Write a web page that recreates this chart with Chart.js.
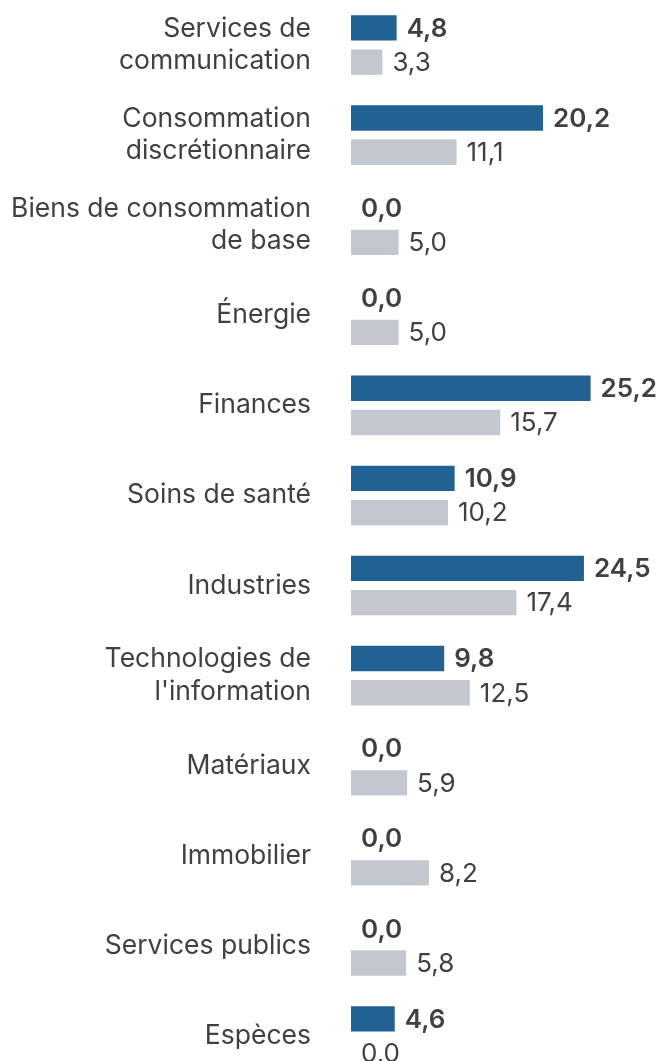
<!DOCTYPE html>
<html lang="fr">
<head>
    <meta charset="UTF-8">
    <title>Répartition sectorielle</title>
    <script src="https://cdn.jsdelivr.net/npm/chart.js"></script>
    <style>
        html, body {
            margin: 0;
            padding: 0;
            background: white;
            overflow: hidden;
        }
        .chart-container {
            position: relative;
            width: 660px;
            height: 1081px;
        }
    </style>
</head>
<body>
    <div class="chart-container">
        <canvas id="sectorChart"></canvas>
    </div>

    <script>
        // secteurs (libellés sur plusieurs lignes)
        const categories = [
            ['Services de', 'communication'],
            ['Consommation', 'discrétionnaire'],
            ['Biens de consommation', 'de base'],
            'Énergie',
            'Finances',
            'Soins de santé',
            'Industries',
            ['Technologies de', "l'information"],
            'Matériaux',
            'Immobilier',
            'Services publics',
            'Espèces'
        ];
        const fundValues = [4.8, 20.2, 0.0, 0.0, 25.2, 10.9, 24.5, 9.8, 0.0, 0.0, 0.0, 4.6];
        const benchmarkValues = [3.3, 11.1, 5.0, 5.0, 15.7, 10.2, 17.4, 12.5, 5.9, 8.2, 5.8, 0.0];

        const textColor = '#404040';
        const fontFamily = 'Inter, "Noto Sans", sans-serif';

        // étiquettes de valeur à droite des barres
        const valueLabels = {
            id: 'valueLabels',
            afterDatasetsDraw(chart) {
                const ctx = chart.ctx;
                ctx.save();
                ctx.fillStyle = textColor;
                ctx.textBaseline = 'middle';
                ctx.textAlign = 'left';
                chart.data.datasets.forEach((ds, i) => {
                    const meta = chart.getDatasetMeta(i);
                    ctx.font = (i === 0 ? '600 ' : '400 ') + '26px ' + fontFamily;
                    meta.data.forEach((bar, j) => {
                        const txt = ds.data[j].toFixed(1).replace('.', ',');
                        ctx.fillText(txt, bar.x + 10, bar.y + 1);
                    });
                });
                ctx.restore();
            }
        };

        const ctx = document.getElementById('sectorChart').getContext('2d');
        new Chart(ctx, {
            type: 'bar',
            data: {
                labels: categories,
                datasets: [
                    {
                        label: 'Fonds',
                        data: fundValues,
                        backgroundColor: '#216194',
                        categoryPercentage: 0.76,
                        barPercentage: 0.74
                    },
                    {
                        label: 'Indice',
                        data: benchmarkValues,
                        backgroundColor: '#c3c7d0',
                        categoryPercentage: 0.76,
                        barPercentage: 0.74
                    }
                ]
            },
            options: {
                indexAxis: 'y',
                responsive: true,
                maintainAspectRatio: false,
                animation: false,
                layout: { padding: 0 },
                scales: {
                    x: {
                        display: false,
                        min: 0,
                        max: 32.5
                    },
                    y: {
                        grid: { display: false, drawTicks: false },
                        border: { display: false },
                        ticks: {
                            color: textColor,
                            padding: 40,
                            font: { family: fontFamily, size: 26.5, lineHeight: 1.23 }
                        },
                        afterFit(scale) {
                            scale.width = 351;
                            scale.paddingTop = 0;
                            scale.paddingBottom = 0;
                        }
                    }
                },
                plugins: {
                    legend: { display: false },
                    tooltip: { enabled: false }
                }
            },
            plugins: [valueLabels]
        });
    </script>
</body>
</html>
